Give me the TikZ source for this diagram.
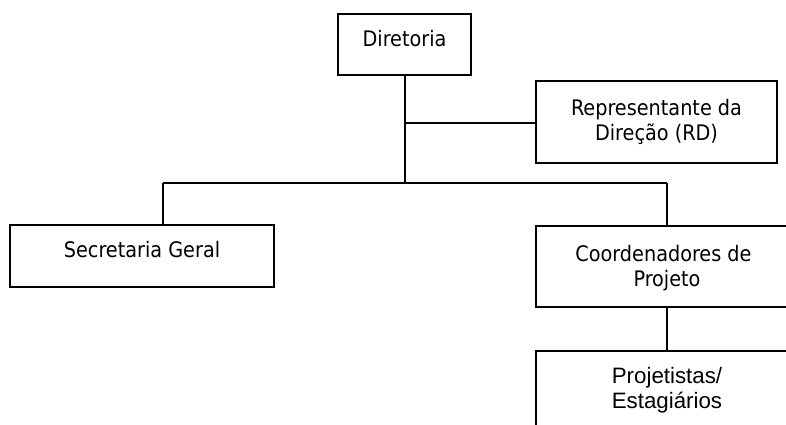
\documentclass[tikz,border=0pt]{standalone}
\usepackage{fontspec}
\setmainfont{DejaVu Sans Condensed}
\newfontfamily\arialfont{Liberation Sans}
\begin{document}
\begin{tikzpicture}[x=1pt,y=-1pt,
  unit/.style={draw=black, line width=1.5pt, fill=white, rectangle,
    inner sep=0pt, align=center, text height=16pt,
    font=\fontsize{21.4}{25}\selectfont},
  twoline/.style={unit, text height=41pt},
  link/.style={draw=black, line width=1.5pt}]
  \clip (0,0) rectangle (786,424);
  \fill[white] (0,0) rectangle (786,424);

  % boxes
  \node[unit, text depth=12pt, minimum width=133pt, minimum height=61pt] (dir) at (404.5,44.5) {Diretoria};
  \node[twoline, text depth=5pt, minimum width=241pt, minimum height=82pt] (rd) at (656.5,122) {Representante da\\Direção (RD)};
  \node[unit, text depth=13pt, minimum width=264pt, minimum height=62pt] (sec) at (142,256) {Secretaria Geral};
  \node[twoline, text depth=1pt, minimum width=262pt, minimum height=81pt] (coord) at (667,266.5) {Coordenadores de\kern7pt\\Projeto};
  \node[twoline, text depth=9pt, minimum width=262pt, minimum height=82pt,
    font=\arialfont\fontsize{22.3}{25}\selectfont] (proj) at (667,392) {Projetistas/\\Estagiários};

  % connectors
  \coordinate (hub) at (405,183);
  \coordinate (left) at (163,183);
  \coordinate (right) at (667,183);
  \coordinate (rdjoin) at (405,123);
  \draw[link] (dir.south -| hub) -- (hub);
  \draw[link] (rdjoin) -- (rdjoin -| rd.west);
  \draw[link] (left) -- (right);
  \draw[link] (left) -- (left |- sec.north);
  \draw[link] (right) -- (coord.north);
  \draw[link] (coord.south) -- (proj.north);
\end{tikzpicture}
\end{document}
